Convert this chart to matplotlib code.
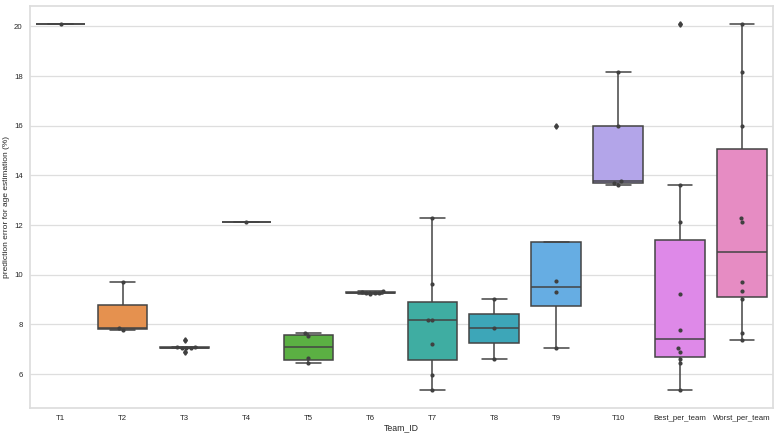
import matplotlib
matplotlib.use("Agg")
import matplotlib.pyplot as plt
import seaborn as sns
import pandas as pd

teams = ["T1", "T2", "T3", "T4", "T5", "T6", "T7", "T8", "T9", "T10",
         "Best_per_team", "Worst_per_team"]

t1 = [20.08]
t2 = [7.76, 7.86, 9.70]
t3 = [6.91, 7.04, 7.06, 7.07, 7.08, 7.10, 7.38]
t4 = [12.12]
t5 = [6.44, 6.64, 7.55, 7.65]
t6 = [9.22, 9.25, 9.27, 9.28, 9.30, 9.34]
t7 = [5.37, 5.96, 7.20, 8.17, 8.19, 9.62, 12.28]
t8 = [6.62, 7.86, 9.02]
t9 = [7.05, 9.30, 9.75, 15.99]
t10 = [13.62, 13.70, 13.76, 15.97, 18.15]
best = [20.08, 7.76, 6.91, 12.12, 6.44, 9.22, 5.37, 6.62, 7.05, 13.62]
worst = [20.08, 9.70, 7.38, 12.12, 7.65, 9.34, 12.28, 9.02, 15.99, 18.15]

values = [t1, t2, t3, t4, t5, t6, t7, t8, t9, t10, best, worst]

colors = ["#e88a8f", "#e5914f", "#b8a245", "#8aae42", "#5bb043", "#45b07e",
          "#3fada2", "#3da6b8", "#66ade3", "#b3a5e9", "#de89e8", "#e68cc3"]

rows = []
for name, vals in zip(teams, values):
    for v in vals:
        rows.append((name, v))
df = pd.DataFrame(rows, columns=["Team_ID", "err"])

sns.set_theme(style="whitegrid")
plt.rcParams["font.family"] = ["Liberation Sans", "DejaVu Sans"]

fig = plt.figure(figsize=(7.8, 4.36), dpi=100)
ax = fig.add_axes([0.038, 0.064, 0.953, 0.922])

sns.boxplot(data=df, x="Team_ID", y="err", hue="Team_ID", order=teams,
            hue_order=teams, palette=colors, saturation=1, legend=False,
            width=0.8, linewidth=1.1, linecolor="#444444",
            flierprops=dict(marker="d", markersize=2.8),
            ax=ax)
sns.swarmplot(data=df, x="Team_ID", y="err", order=teams, color=".25",
              size=3, ax=ax)

ax.set_xlabel("Team_ID", fontsize=6.3, labelpad=1)
ax.set_ylabel("prediction error for age estimation (%)", fontsize=6, labelpad=3)
ax.tick_params(axis="both", labelsize=5.6, length=0, pad=5)
ax.set_yticks([6, 8, 10, 12, 14, 16, 18, 20])
ax.yaxis.grid(True, color="#dedede", linewidth=0.9)
for s in ax.spines.values():
    s.set_color("#dddddd")
fig.savefig("out.png", dpi=100)
